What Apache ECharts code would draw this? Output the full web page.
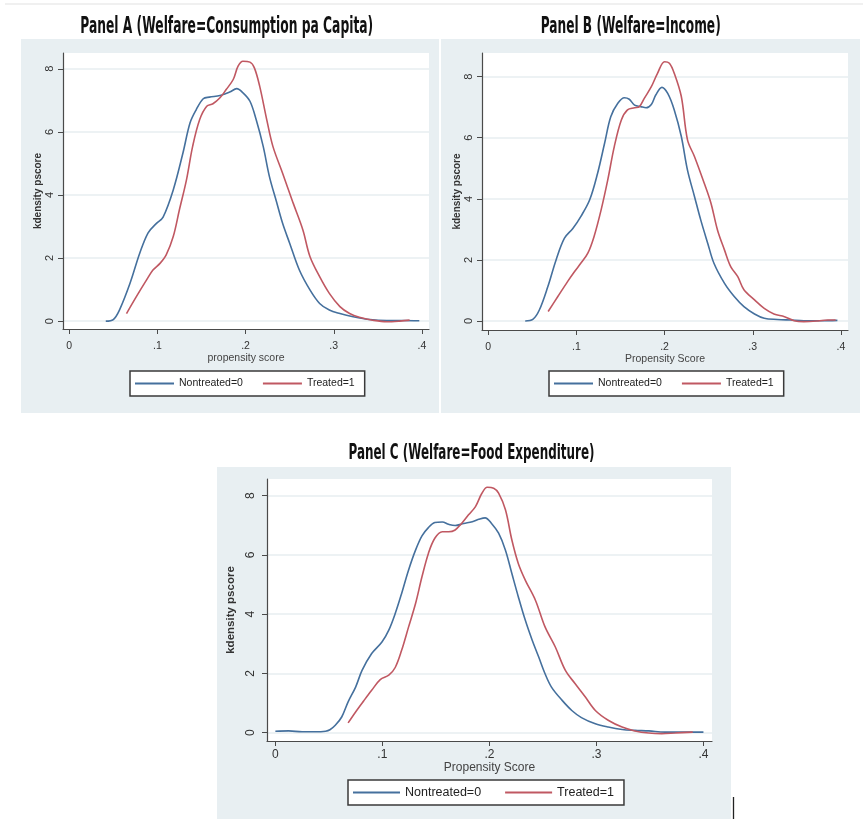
<!DOCTYPE html>
<html>
<head>
<meta charset="utf-8">
<script src="https://cdn.jsdelivr.net/npm/echarts@6/dist/echarts.min.js"></script>
<style>
  html, body { margin: 0; padding: 0; background: #ffffff; }
  #chart { width: 863px; height: 819px; }
</style>
</head>
<body>
<div id="chart"></div>
<script>
// Kernel density of the propensity score, nontreated vs treated, for three welfare measures.
const xTickValues = [0, 0.1, 0.2, 0.3, 0.4];
const yTickValues = [0, 2, 4, 6, 8];
const seriesNames = ['Nontreated=0', 'Treated=1'];
const panelTitles = [
  'Panel A (Welfare=Consumption pa Capita)',
  'Panel B (Welfare=Income)',
  'Panel C (Welfare=Food Expenditure)'
];
const xAxisTitles = ['propensity score', 'Propensity Score', 'Propensity Score'];
const yAxisTitle = 'kdensity pscore';

// Panel A: consumption per capita
const panelANontreated = [
  [0.0415, 0], [0.05, 0.05], [0.057, 0.35], [0.069, 1.2], [0.08, 2.15], [0.0895, 2.8],
  [0.099, 3.1], [0.1065, 3.3], [0.118, 4.16], [0.129, 5.33], [0.137, 6.28], [0.144, 6.7],
  [0.152, 7.05], [0.159, 7.1], [0.171, 7.15], [0.182, 7.26], [0.19, 7.37], [0.197, 7.24],
  [0.205, 6.97], [0.212, 6.39], [0.22, 5.54], [0.227, 4.59], [0.235, 3.79], [0.242, 3.1],
  [0.25, 2.47], [0.261, 1.62], [0.273, 0.99], [0.284, 0.56], [0.295, 0.35], [0.307, 0.24],
  [0.322, 0.14], [0.341, 0.05], [0.36, 0.02], [0.378, 0.02], [0.397, 0.01]
];
const panelATreated = [
  [0.065, 0.24], [0.076, 0.77], [0.0876, 1.3], [0.095, 1.62], [0.103, 1.83], [0.11, 2.1],
  [0.118, 2.68], [0.125, 3.53], [0.133, 4.48], [0.14, 5.54], [0.148, 6.39], [0.156, 6.81],
  [0.163, 6.89], [0.171, 7.08], [0.178, 7.34], [0.186, 7.66], [0.1915, 8.08], [0.197, 8.24],
  [0.205, 8.21], [0.21, 8.03], [0.216, 7.45], [0.224, 6.39], [0.231, 5.54], [0.242, 4.69],
  [0.254, 3.74], [0.265, 2.89], [0.273, 2.05], [0.284, 1.41], [0.295, 0.88], [0.307, 0.46],
  [0.318, 0.24], [0.329, 0.12], [0.344, 0.03], [0.36, -0.02], [0.375, 0], [0.386, 0.03]
];

// Panel B: income
const panelBNontreated = [
  [0.042, 0], [0.0506, 0.05], [0.058, 0.36], [0.0676, 1.12], [0.077, 2.0], [0.0865, 2.71],
  [0.096, 3.03], [0.105, 3.42], [0.115, 3.96], [0.124, 4.83], [0.132, 5.82], [0.139, 6.69],
  [0.147, 7.13], [0.1545, 7.31], [0.16, 7.26], [0.166, 7.07], [0.173, 7.02], [0.179, 6.98],
  [0.185, 7.09], [0.19, 7.4], [0.197, 7.65], [0.2036, 7.45], [0.211, 6.91], [0.219, 6.04],
  [0.226, 4.94], [0.234, 4.07], [0.241, 3.31], [0.249, 2.54], [0.256, 1.89], [0.268, 1.23],
  [0.279, 0.8], [0.29, 0.47], [0.302, 0.23], [0.313, 0.09], [0.328, 0.05], [0.343, 0.03],
  [0.358, 0.01], [0.377, 0.01], [0.396, 0.02]
];
const panelBTreated = [
  [0.068, 0.31], [0.079, 0.8], [0.09, 1.29], [0.098, 1.62], [0.105, 1.89], [0.113, 2.22],
  [0.12, 2.76], [0.128, 3.63], [0.1356, 4.62], [0.143, 5.71], [0.151, 6.58], [0.158, 6.91],
  [0.166, 6.98], [0.1715, 7.02], [0.177, 7.29], [0.185, 7.67], [0.192, 8.11], [0.2, 8.49],
  [0.2055, 8.44], [0.211, 8.11], [0.219, 7.35], [0.226, 5.93], [0.234, 5.38], [0.245, 4.51],
  [0.2527, 3.85], [0.26, 2.98], [0.268, 2.32], [0.275, 1.78], [0.283, 1.45], [0.29, 1.02],
  [0.302, 0.69], [0.313, 0.41], [0.324, 0.23], [0.336, 0.14], [0.347, 0.01], [0.358, -0.02],
  [0.374, 0], [0.385, 0.03], [0.394, 0.03]
];

// Panel C: food expenditure
const panelCNontreated = [
  [0, 0.05], [0.0125, 0.06], [0.025, 0.03], [0.037, 0.03], [0.047, 0.05], [0.051, 0.1],
  [0.056, 0.25], [0.062, 0.53], [0.068, 1.04], [0.075, 1.54], [0.081, 2.1], [0.09, 2.67],
  [0.0996, 3.06], [0.106, 3.46], [0.112, 4.02], [0.118, 4.7], [0.1245, 5.49], [0.131, 6.16],
  [0.137, 6.64], [0.143, 6.92], [0.149, 7.09], [0.156, 7.11], [0.162, 7.03], [0.168, 6.99],
  [0.176, 7.06], [0.184, 7.12], [0.19, 7.2], [0.196, 7.25], [0.202, 7.06], [0.2086, 6.73],
  [0.215, 6.16], [0.221, 5.37], [0.227, 4.59], [0.2335, 3.8], [0.24, 3.12], [0.246, 2.56],
  [0.252, 1.99], [0.258, 1.54], [0.268, 1.09], [0.277, 0.75], [0.286, 0.51], [0.299, 0.3],
  [0.311, 0.19], [0.324, 0.11], [0.336, 0.08], [0.349, 0.06], [0.364, 0.02], [0.38, 0.02],
  [0.4, 0.02]
];
const panelCTreated = [
  [0.068, 0.33], [0.075, 0.7], [0.0825, 1.07], [0.09, 1.43], [0.098, 1.79], [0.106, 1.94],
  [0.112, 2.2], [0.118, 2.78], [0.1245, 3.57], [0.131, 4.36], [0.137, 5.26], [0.143, 6.05],
  [0.149, 6.56], [0.156, 6.78], [0.162, 6.78], [0.168, 6.84], [0.174, 7.06], [0.1805, 7.35],
  [0.187, 7.63], [0.193, 8.08], [0.198, 8.28], [0.204, 8.25], [0.2086, 8.08], [0.215, 7.52],
  [0.221, 6.5], [0.227, 5.71], [0.2335, 5.15], [0.243, 4.47], [0.252, 3.57], [0.2615, 2.9],
  [0.271, 2.1], [0.28, 1.66], [0.2895, 1.21], [0.299, 0.75], [0.311, 0.42], [0.324, 0.19],
  [0.336, 0.06], [0.349, -0.01], [0.361, -0.03], [0.3735, -0.01], [0.39, 0.02]
];

const panelSeries = [
  [panelANontreated, panelATreated],
  [panelBNontreated, panelBTreated],
  [panelCNontreated, panelCTreated]
];

const lineColors = ['#45709d', '#c05862'];
const panelBg = '#e8eff2';
const gridLineColor = '#e7eef1';
const axisColor = '#4a4a4a';
const textColor = '#333333';

// Plot area and axis extents for each panel
const layout = [
  { left: 63, top: 53, width: 366, height: 276, xMin: -0.007, xMax: 0.408, yMin: -0.25, yMax: 8.5,
    font: 10.5, yFont: 11, labelMargin: 12, nameGap: 22, yLabelMargin: 8, yNameGap: 20,
    legend: { left: 130, top: 371, itemWidth: 39, gap: 20, font: 10.5, pad: 7 } },
  { left: 482, top: 53, width: 366, height: 277, xMin: -0.007, xMax: 0.408, yMin: -0.295, yMax: 8.775,
    font: 10.5, yFont: 11, labelMargin: 12, nameGap: 22, yLabelMargin: 8, yNameGap: 20,
    legend: { left: 549, top: 371, itemWidth: 39, gap: 20, font: 10.5, pad: 7 } },
  { left: 267, top: 479, width: 445, height: 262, xMin: -0.0078, xMax: 0.408, yMin: -0.28, yMax: 8.56,
    font: 12, yFont: 12, labelMargin: 8, nameGap: 18, yLabelMargin: 10, yNameGap: 22,
    legend: { left: 348, top: 780, itemWidth: 47, gap: 24, font: 12.5, pad: 6 } }
];

const fmtX = v => (Math.abs(v) < 1e-9 ? '0' : '.' + Math.round(v * 10));

const grids = [], xAxes = [], yAxes = [], series = [], legends = [];
layout.forEach((p, i) => {
  grids.push({
    left: p.left, top: p.top, width: p.width, height: p.height,
    show: true, backgroundColor: '#ffffff', borderWidth: 0
  });
  xAxes.push({
    type: 'value', gridIndex: i, min: p.xMin, max: p.xMax,
    name: xAxisTitles[i], nameLocation: 'middle', nameGap: p.nameGap,
    nameTextStyle: { color: '#444', fontSize: p.font, fontFamily: 'Liberation Sans' },
    axisLine: { show: true, onZero: false, lineStyle: { color: axisColor, width: 1.2 } },
    axisTick: { show: true, length: 5, customValues: xTickValues, lineStyle: { color: axisColor } },
    axisLabel: { customValues: xTickValues, formatter: fmtX, margin: p.labelMargin,
      color: textColor, fontSize: p.font, fontFamily: 'Liberation Sans' },
    splitLine: { show: false }
  });
  yAxes.push({
    type: 'value', gridIndex: i, min: p.yMin, max: p.yMax,
    name: yAxisTitle, nameLocation: 'middle', nameGap: p.yNameGap,
    nameTextStyle: { color: textColor, fontSize: p.font - 0.5, fontWeight: 'bold', fontFamily: 'Liberation Sans' },
    axisLine: { show: true, onZero: false, lineStyle: { color: axisColor, width: 1.2 } },
    axisTick: { show: true, length: 5, customValues: yTickValues, lineStyle: { color: axisColor } },
    axisLabel: { customValues: yTickValues, rotate: 90, margin: p.yLabelMargin,
      color: textColor, fontSize: p.yFont, fontFamily: 'Liberation Sans' },
    splitLine: { show: true, lineStyle: { color: gridLineColor, width: 1.5 } }
  });
  panelSeries[i].forEach((data, k) => {
    series.push({
      type: 'line', name: seriesNames[k], xAxisIndex: i, yAxisIndex: i,
      data: data, showSymbol: false, smooth: 0.35, clip: false,
      lineStyle: { color: lineColors[k], width: 1.6 },
      itemStyle: { color: lineColors[k] },
      z: 3 + k
    });
  });
  legends.push({
    left: p.legend.left, top: p.legend.top, orient: 'horizontal',
    data: seriesNames, icon: 'rect', itemWidth: p.legend.itemWidth, itemHeight: 2,
    itemGap: p.legend.gap, padding: [p.legend.pad, 10, p.legend.pad, 5],
    backgroundColor: '#ffffff', borderColor: '#3a3a3a', borderWidth: 1.5, borderRadius: 0,
    textStyle: { color: '#222', fontSize: p.legend.font, fontFamily: 'Liberation Sans' },
    selectedMode: false
  });
});

// Condensed bold panel headings: fit each to its measured width
const ctx = document.createElement('canvas').getContext('2d');
function titleText(text, cx, cy, targetWidth, size) {
  const font = 'bold ' + size + 'px "DejaVu Sans"';
  ctx.font = font;
  const w = ctx.measureText(text).width;
  return {
    type: 'text', x: cx, y: cy, scaleX: targetWidth / w, z: 10,
    style: { x: 0, y: 0, text: text, font: font, fill: '#111',
      align: 'center', verticalAlign: 'middle', textAlign: 'center', textVerticalAlign: 'middle' }
  };
}

const graphics = [
  { type: 'rect', shape: { x: 5, y: 3, width: 858, height: 2 }, style: { fill: '#f0f0f0' }, z: -10 },
  { type: 'rect', shape: { x: 21, y: 39, width: 418, height: 374 }, style: { fill: panelBg }, z: -10 },
  { type: 'rect', shape: { x: 441, y: 39, width: 419, height: 374 }, style: { fill: panelBg }, z: -10 },
  { type: 'rect', shape: { x: 217, y: 467, width: 514, height: 352 }, style: { fill: panelBg }, z: -10 },
  { type: 'line', shape: { x1: 733.5, y1: 797, x2: 733.5, y2: 819 }, style: { stroke: '#222', lineWidth: 1.3 }, z: 10 },
  titleText(panelTitles[0], 226.7, 27, 293, 23),
  titleText(panelTitles[1], 630.7, 27, 180, 23),
  titleText(panelTitles[2], 471.5, 453, 246, 22)
];

const chart = echarts.init(document.getElementById('chart'), null, { renderer: 'canvas' });
chart.setOption({
  backgroundColor: '#ffffff',
  animation: false,
  grid: grids,
  xAxis: xAxes,
  yAxis: yAxes,
  legend: legends,
  series: series,
  graphic: graphics
});
</script>
</body>
</html>
